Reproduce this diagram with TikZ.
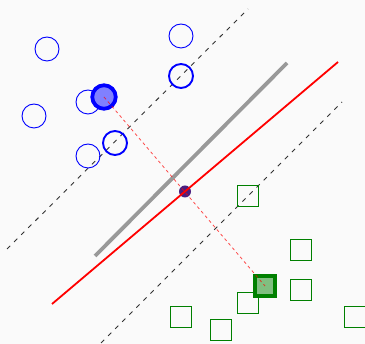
\documentclass[tikz,border=0pt]{standalone}
\begin{document}
\begin{tikzpicture}[x=1pt,y=-1pt,
  posc/.style={circle,draw=blue,line width=0.9pt,minimum size=24pt,inner sep=0pt},
  poscSV/.style={posc,line width=1.9pt},
  poscSel/.style={circle,draw=blue,line width=3.8pt,fill=blue!50!white,minimum size=23.5pt,inner sep=0pt},
  negsq/.style={rectangle,draw=green!50!black,line width=0.9pt,minimum size=21pt,inner sep=0pt},
  negsqSV/.style={negsq,line width=1.9pt},
  negsqSel/.style={rectangle,draw=green!50!black,line width=3.8pt,fill=green!50!black!50!white,minimum size=20.5pt,inner sep=0pt},
  marginline/.style={draw=black!80,line width=0.9pt,dash pattern=on 4.5pt off 5.5pt},
  projline/.style={draw=red,opacity=0.7,line width=0.8pt,dash pattern=on 3pt off 3pt}]
\fill[white!98!black] (0,0) rectangle (365,344);
\useasboundingbox (0,0) rectangle (365,344);
% margin lines
\coordinate (mu1) at (7,249); \coordinate (mu2) at (248,9);
\coordinate (ml1) at (101,343); \coordinate (ml2) at (342,102);
\draw[marginline] (mu1) -- (mu2);
\draw[marginline] (ml1) -- (ml2);
% gray line
\coordinate (g1) at (95,256); \coordinate (g2) at (287,63);
\draw[black!40,line width=3.8pt] (g1) -- (g2);
% positive class
\node[posc] (p1) at (47,49) {};
\node[posc] (p2) at (181,36) {};
\node[poscSV] (p3) at (181,76) {};
\node[posc] (p4) at (34,116) {};
\node[posc] (p5) at (88,102) {};
\node[poscSel] (p6) at (104,97) {};
\node[poscSV] (p7) at (115,143) {};
\node[posc] (p8) at (88,156) {};
% negative class
\node[negsqSV] (n1) at (248,196) {};
\node[negsq] (n2) at (301,250) {};
\node[negsq] (n3) at (301,290) {};
\node[negsq] (n4) at (248,303) {};
\node[negsqSel] (n5) at (265,286) {};
\node[negsq] (n6) at (181,317) {};
\node[negsq] (n7) at (221,330) {};
\node[negsq] (n8) at (355,317) {};
% projection
\node[circle,fill={rgb,255:red,74;green,31;blue,128},minimum size=12pt,inner sep=0pt] (d) at (185,191.5) {};
\draw[projline] (p6.center) -- (n5.center);
% red line
\coordinate (r1) at (52,304); \coordinate (r2) at (338,62);
\draw[red,line width=1.8pt] (r1) -- (r2);
\end{tikzpicture}
\end{document}
